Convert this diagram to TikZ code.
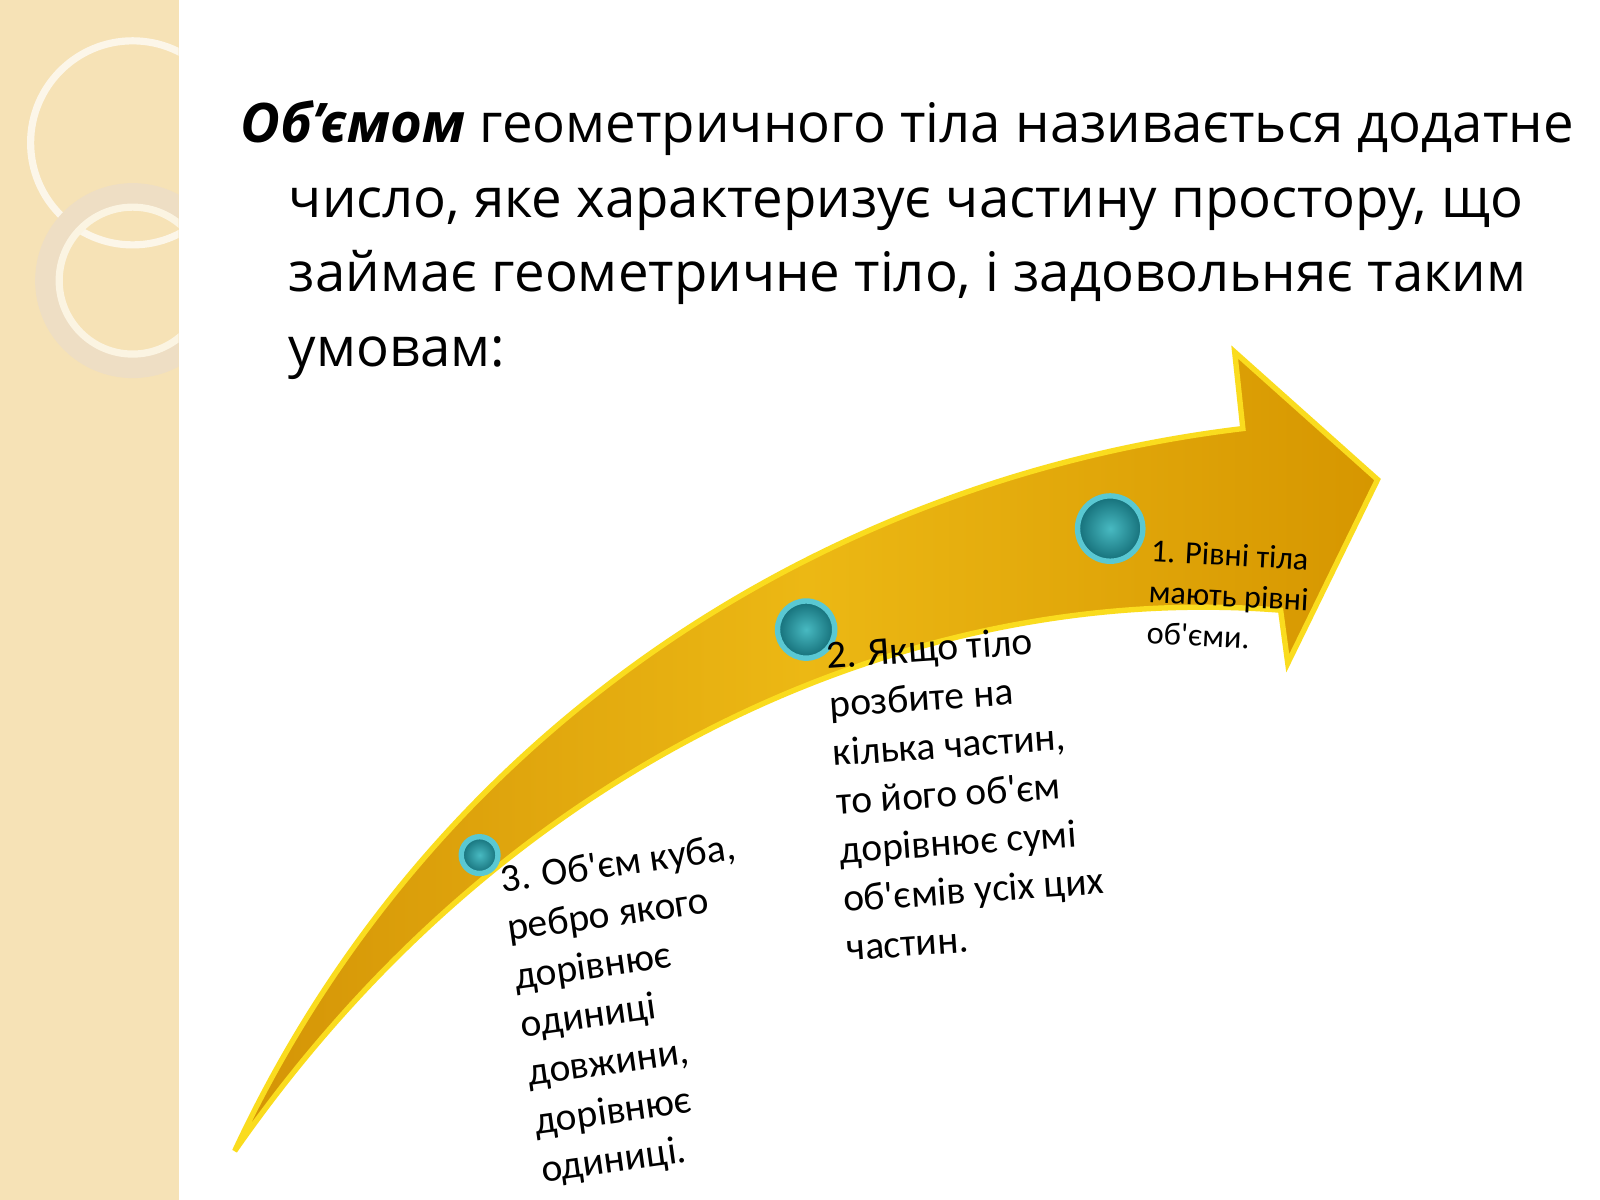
\documentclass[tikz,border=0pt]{standalone}
\usepackage{fontspec}
\setmainfont{Open Sans}
\newfontfamily\itemfont{Carlito}
\definecolor{panel}{RGB}{246,226,182}
\definecolor{ringc}{RGB}{238,222,196}
\definecolor{goldA}{RGB}{236,184,20}
\definecolor{goldB}{RGB}{214,150,0}
\definecolor{edgeY}{RGB}{250,220,30}
\definecolor{btnA}{RGB}{90,200,210}
\definecolor{btnB}{RGB}{20,110,120}
\begin{document}
\begin{tikzpicture}[x=0.01cm,y=-0.01cm,
  btn/.style={circle,draw=btnA,line width=1.5pt,inner color=btnA!80!teal,outer color=btnB,inner sep=0pt},
  itemtxt/.style={font=\itemfont\fontsize{11}{13.6}\selectfont,align=left,anchor=north west,inner sep=0pt}]
\useasboundingbox (0,0) rectangle (1568,1176);
\fill[white] (0,0) rectangle (1568,1176);
\fill[panel] (0,0) rectangle (175,1176);
\begin{scope}
\clip (0,0) rectangle (175,1176);
\draw[white!70!panel,line width=2pt] (130,140) circle (100);
\draw[ringc,line width=6pt] (130,275) circle (85);
\draw[white!60!panel,line width=2pt] (130,275) circle (72);
\end{scope}
\node[anchor=north west,align=left,font=\fontsize{15.2}{20.8}\selectfont,inner sep=0pt] (title) at (235,98)
 {\textbf{\textit{Об'ємом}} геометричного тіла називається додатне\\
 \hspace*{13.5pt}число, яке характеризує частину простору, що\\
 \hspace*{13.5pt}займає геометричне тіло, і задовольняє таким\\
 \hspace*{13.5pt}умовам:};
\shade[left color=goldB!90!brown,right color=goldB,middle color=goldA,draw=edgeY,line width=1.5pt]
 (230,1128) .. controls (420,720) and (800,470) .. (1218,420)
 -- (1210,345) -- (1350,470) -- (1262,650) -- (1255,598)
 .. controls (900,570) and (500,740) .. cycle;
\node[btn,minimum size=0.64cm] (b1) at (1088,518) {};
\node[btn,minimum size=0.56cm] (b2) at (790,617) {};
\node[btn,minimum size=0.36cm] (b3) at (470,838) {};
\node[itemtxt,rotate=-3,font=\itemfont\fontsize{9}{11.4}\selectfont] (t1) at (1128,528)
 {1. Рівні тіла\\мають рівні\\ об'єми.};
\node[itemtxt,rotate=4] (t2) at (808,628)
 {2. Якщо тіло\\розбите на\\кілька частин,\\то його об'єм\\дорівнює сумі\\об'ємів усіх цих\\частин.};
\node[itemtxt,rotate=8] (t3) at (488,848)
 {3. Об'єм куба,\\ребро якого\\дорівнює\\одиниці\\довжини,\\дорівнює\\одиниці.};
\end{tikzpicture}
\end{document}
